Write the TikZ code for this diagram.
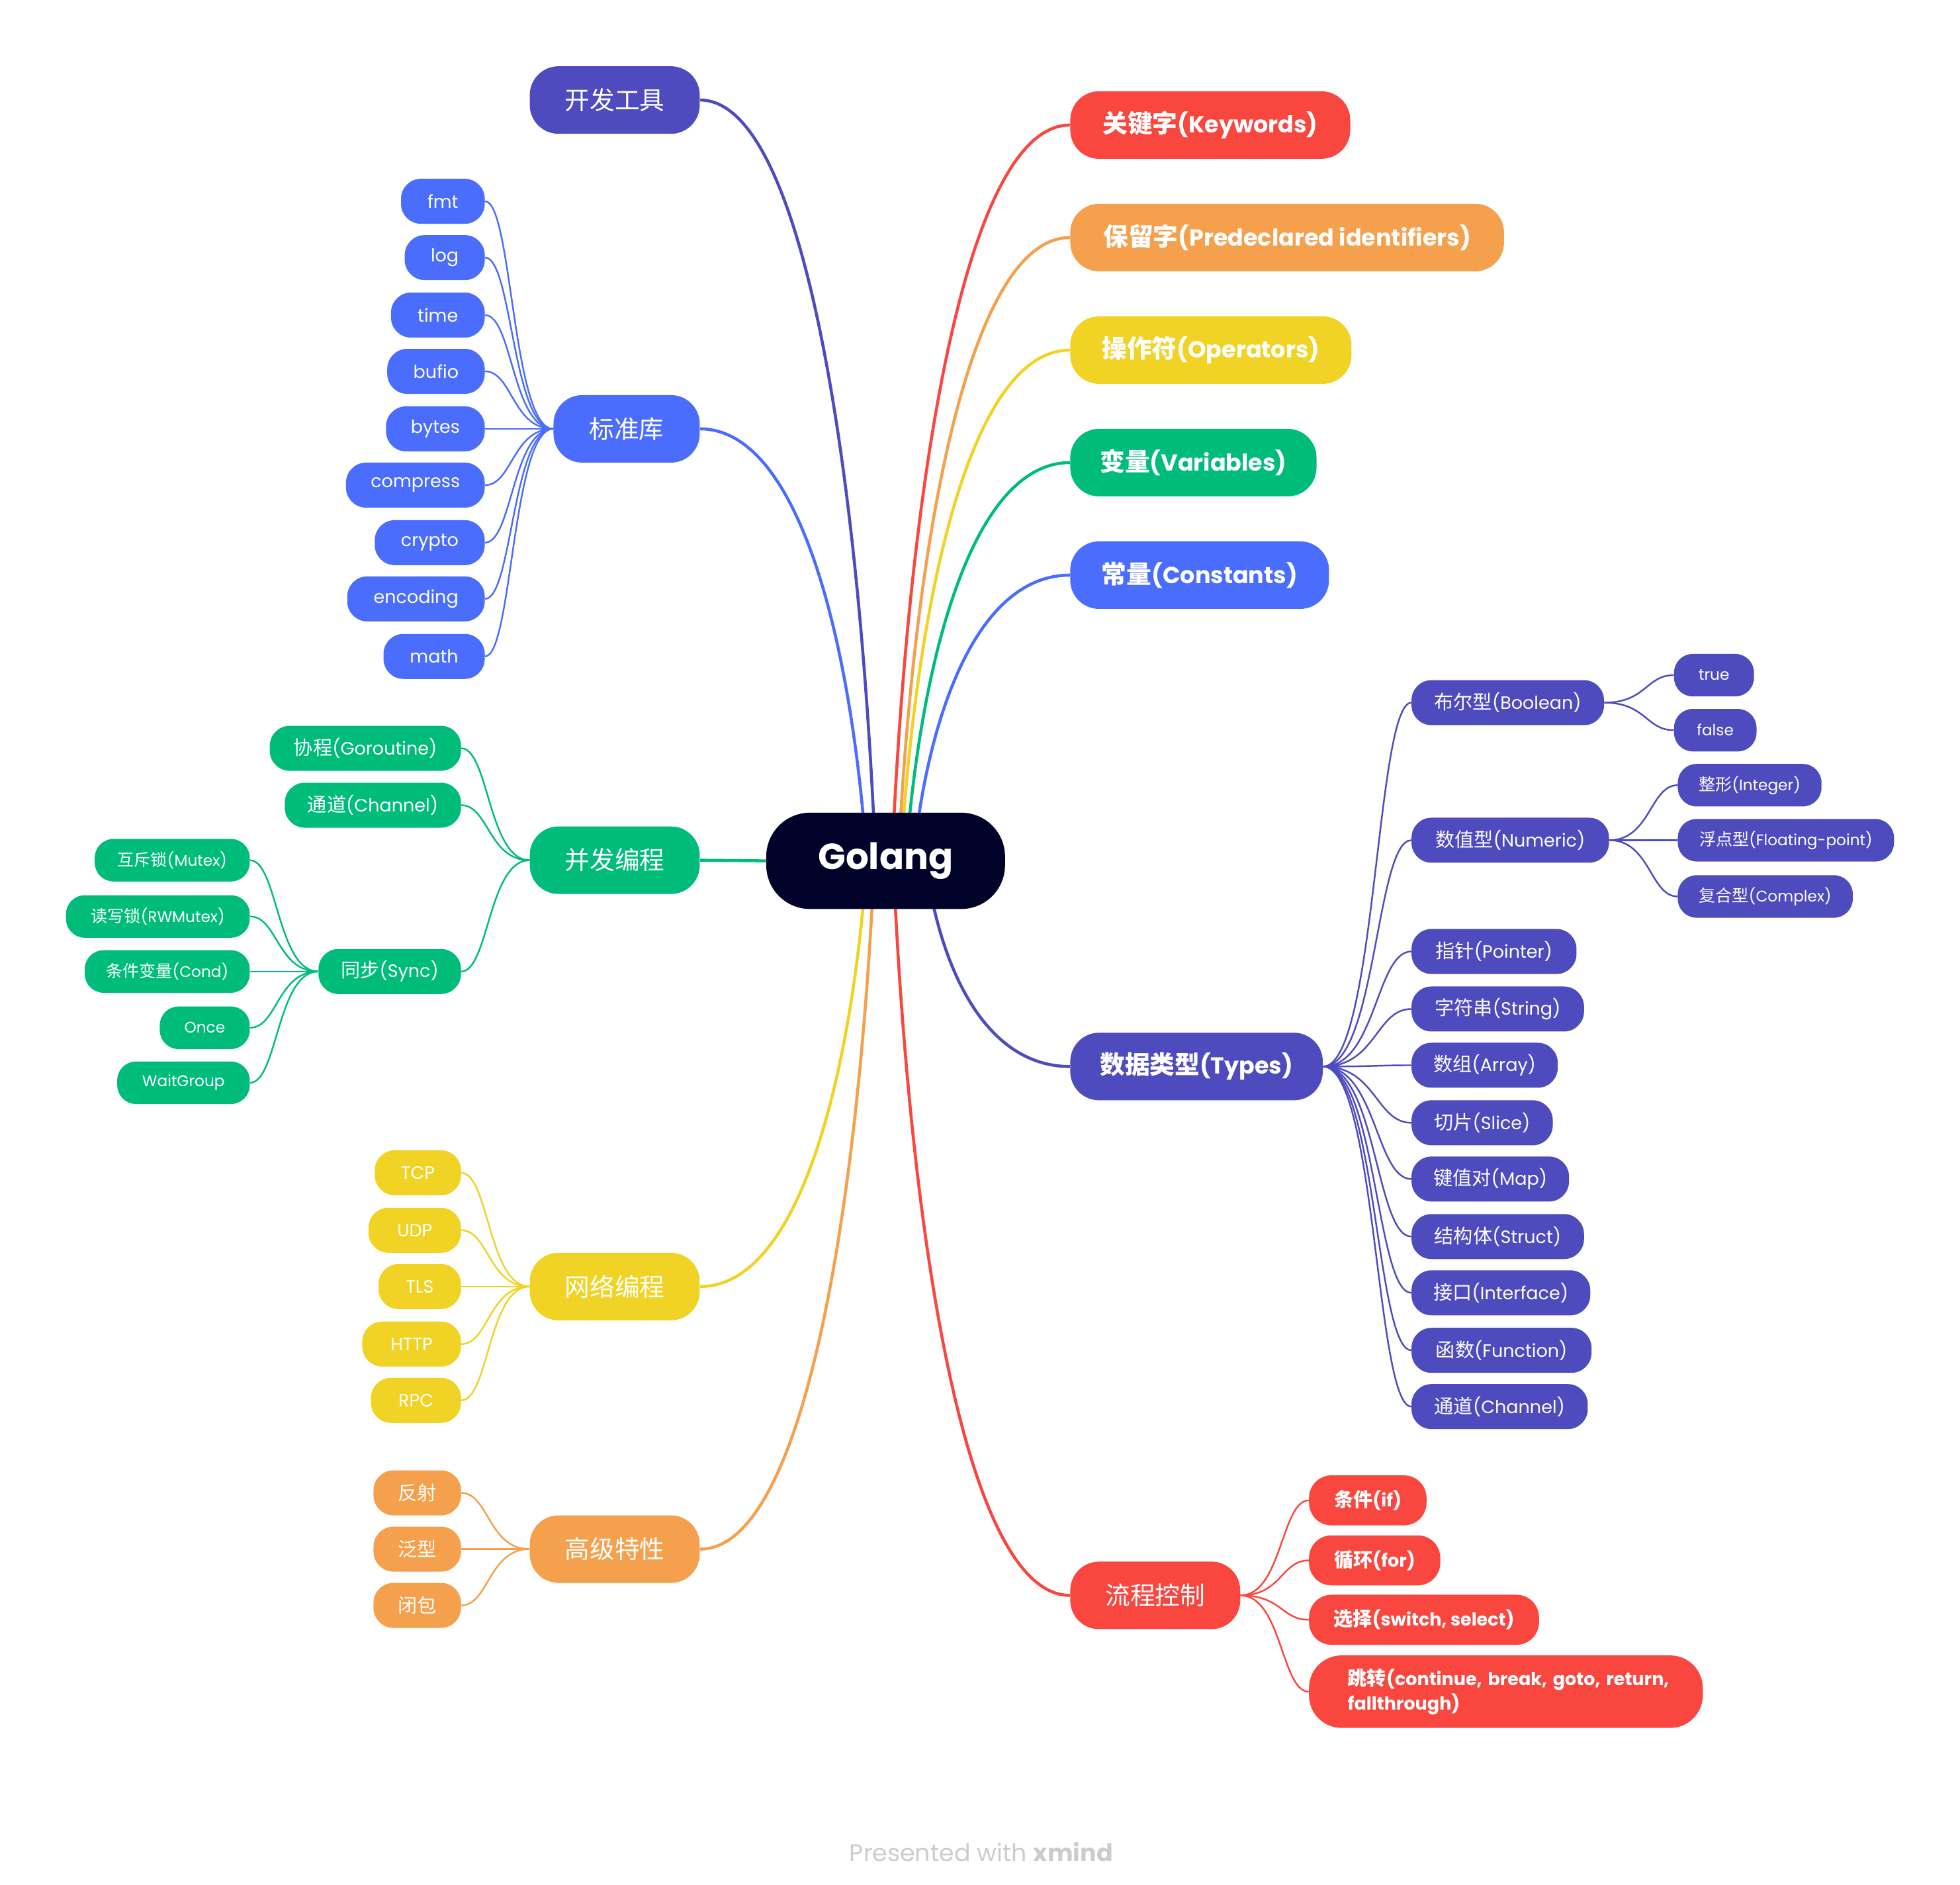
\documentclass[tikz,border=0pt]{standalone}
\usepackage{fontspec}
\setmainfont{Poppins}
\newfontfamily\zhfont{Noto Sans CJK SC}[Scale=1.08]
\newcommand{\zh}[1]{{\zhfont #1}}
\usetikzlibrary{calc}

\definecolor{cRed}{RGB}{249,70,63}
\definecolor{cOrange}{RGB}{245,160,77}
\definecolor{cYellow}{RGB}{240,211,36}
\definecolor{cGreen}{RGB}{0,188,123}
\definecolor{cBlue}{RGB}{75,109,254}
\definecolor{cIndigo}{RGB}{78,75,191}
\definecolor{cRoot}{RGB}{0,2,41}
\definecolor{cFoot}{RGB}{204,204,204}

\pgfdeclarelayer{links}
\pgfsetlayers{links,main}

% curved branch leaving the central topic
\newcommand\rootlink[3]{%
  \draw[trunk=#1] let \p1=($(go.center)+(#2,0)$), \p2=(#3) in
    (\p1) .. controls ({\x1+0.09*(\x2-\x1)},{\y1+0.5*(\y2-\y1)})
             and ({\x2+0.6*(\x1-\x2)},{\y2}) .. (\p2);}
% curved branch from a topic to one of its subtopics
\newcommand\fanlink[3]{%
  \draw[twig=#1] let \p1=(#2), \p2=(#3) in
    (\p1) .. controls ({\x1+0.6*(\x2-\x1)},{\y1})
             and ({\x2-0.4*(\x2-\x1)},{\y2}) .. (\p2);}

\begin{document}
\begin{tikzpicture}[x=1pt,y=-1pt,
  main/.style={fill=#1, text=white, inner sep=0pt, minimum height=54pt,
    rounded corners=23pt, font=\fontsize{18.5}{22}\selectfont},
  mainb/.style={main=#1, font=\fontsize{18.5}{22}\selectfont\bfseries},
  sub/.style={fill=#1, text=white, inner sep=0pt, minimum height=36pt,
    rounded corners=16pt, font=\fontsize{14.3}{17}\selectfont},
  subb/.style={fill=#1, text=white, inner sep=0pt, minimum height=40pt,
    rounded corners=18pt, font=\fontsize{14.3}{19.5}\selectfont\bfseries},
  leaf/.style={fill=#1, text=white, inner sep=0pt, minimum height=34pt,
    rounded corners=15pt, font=\fontsize{12.3}{15}\selectfont},
  trunk/.style={draw=#1, line width=2.4pt},
  twig/.style={draw=#1, line width=1.3pt},
]
\useasboundingbox (0,0) rectangle (1568,1507.6);

% central topic
\node[fill=cRoot, text=white, inner sep=0pt, minimum width=191pt,
  minimum height=77pt, rounded corners=35pt,
  font=\fontsize{29}{35}\selectfont\bfseries] (go) at (708.5,688.5) {Golang};

% main topics, right side
\node[mainb=cRed,    minimum width=224pt, anchor=west] (kw) at (856,100) {\zh{关键字}(Keywords)};
\node[mainb=cOrange, minimum width=347pt, anchor=west] (pd) at (856,190) {\zh{保留字}(Predeclared identifiers)};
\node[mainb=cYellow, minimum width=225pt, anchor=west] (op) at (856,280) {\zh{操作符}(Operators)};
\node[mainb=cGreen,  minimum width=197pt, anchor=west] (va) at (856,370) {\zh{变量}(Variables)};
\node[mainb=cBlue,   minimum width=207pt, anchor=west] (co) at (856,460) {\zh{常量}(Constants)};
\node[mainb=cIndigo, minimum width=202pt, anchor=west] (ty) at (856,853) {\zh{数据类型}(Types)};
\node[main=cRed,     minimum width=136pt, anchor=west] (fc) at (856,1276) {\zh{流程控制}};

% main topics, left side
\node[main=cIndigo, minimum width=136pt, anchor=east] (dev)  at (560,80)   {\zh{开发工具}};
\node[main=cBlue,   minimum width=117pt, anchor=east] (std)  at (560,343)  {\zh{标准库}};
\node[main=cGreen,  minimum width=136pt, anchor=east] (conc) at (560,688)  {\zh{并发编程}};
\node[main=cYellow, minimum width=136pt, anchor=east] (net)  at (560,1029) {\zh{网络编程}};
\node[main=cOrange, minimum width=136pt, anchor=east] (adv)  at (560,1239) {\zh{高级特性}};

% standard library packages
\node[sub=cBlue, minimum width=67pt,  anchor=east] (fmt)  at (388,161) {fmt};
\node[sub=cBlue, minimum width=64pt,  anchor=east] (log)  at (388,206) {log};
\node[sub=cBlue, minimum width=75pt,  anchor=east] (time) at (388,252) {time};
\node[sub=cBlue, minimum width=78pt,  anchor=east] (bufio) at (388,297) {bufio};
\node[sub=cBlue, minimum width=79pt,  anchor=east] (bytes) at (388,343) {bytes};
\node[sub=cBlue, minimum width=111pt, anchor=east] (compress) at (388,388) {compress};
\node[sub=cBlue, minimum width=88pt,  anchor=east] (crypto) at (388,434) {crypto};
\node[sub=cBlue, minimum width=110pt, anchor=east] (encoding) at (388,479) {encoding};
\node[sub=cBlue, minimum width=81pt,  anchor=east] (math) at (388,525) {math};

% concurrency
\node[sub=cGreen, minimum width=153pt, anchor=east] (gor)  at (369,598.5) {\zh{协程}(Goroutine)};
\node[sub=cGreen, minimum width=141pt, anchor=east] (chan) at (369,644)   {\zh{通道}(Channel)};
\node[sub=cGreen, minimum width=114pt, anchor=east] (sync) at (369,777)   {\zh{同步}(Sync)};
\node[leaf=cGreen, minimum width=124pt, anchor=east] (mutex)   at (200,688) {\zh{互斥锁}(Mutex)};
\node[leaf=cGreen, minimum width=147pt, anchor=east] (rwmutex) at (200,733) {\zh{读写锁}(RWMutex)};
\node[leaf=cGreen, minimum width=132pt, anchor=east] (cond)    at (200,777) {\zh{条件变量}(Cond)};
\node[leaf=cGreen, minimum width=72pt,  anchor=east] (once)    at (200,822) {Once};
\node[leaf=cGreen, minimum width=106pt, anchor=east] (wg)      at (200,866) {WaitGroup};

% networking
\node[sub=cYellow, minimum width=69pt, anchor=east] (tcp)  at (369,938)  {TCP};
\node[sub=cYellow, minimum width=74pt, anchor=east] (udp)  at (369,984)  {UDP};
\node[sub=cYellow, minimum width=66pt, anchor=east] (tls)  at (369,1029) {TLS};
\node[sub=cYellow, minimum width=79pt, anchor=east] (http) at (369,1075) {HTTP};
\node[sub=cYellow, minimum width=72pt, anchor=east] (rpc)  at (369,1120) {RPC};

% advanced features
\node[sub=cOrange, minimum width=70pt, anchor=east] (refl) at (369,1194) {\zh{反射}};
\node[sub=cOrange, minimum width=70pt, anchor=east] (gen)  at (369,1239) {\zh{泛型}};
\node[sub=cOrange, minimum width=70pt, anchor=east] (clo)  at (369,1284) {\zh{闭包}};

% data types
\node[sub=cIndigo, minimum width=154pt, anchor=west] (bool)  at (1129,562)  {\zh{布尔型}(Boolean)};
\node[sub=cIndigo, minimum width=158pt, anchor=west] (num)   at (1129,672)  {\zh{数值型}(Numeric)};
\node[sub=cIndigo, minimum width=132pt, anchor=west] (ptr)   at (1129,761)  {\zh{指针}(Pointer)};
\node[sub=cIndigo, minimum width=138pt, anchor=west] (str)   at (1129,807)  {\zh{字符串}(String)};
\node[sub=cIndigo, minimum width=117pt, anchor=west] (arr)   at (1129,852)  {\zh{数组}(Array)};
\node[sub=cIndigo, minimum width=113pt, anchor=west] (slice) at (1129,898)  {\zh{切片}(Slice)};
\node[sub=cIndigo, minimum width=126pt, anchor=west] (map)   at (1129,943)  {\zh{键值对}(Map)};
\node[sub=cIndigo, minimum width=138pt, anchor=west] (struct) at (1129,989) {\zh{结构体}(Struct)};
\node[sub=cIndigo, minimum width=143pt, anchor=west] (iface) at (1129,1034) {\zh{接口}(Interface)};
\node[sub=cIndigo, minimum width=144pt, anchor=west] (func)  at (1129,1080) {\zh{函数}(Function)};
\node[sub=cIndigo, minimum width=141pt, anchor=west] (tchan) at (1129,1125) {\zh{通道}(Channel)};
\node[leaf=cIndigo, minimum width=64pt,  anchor=west] (true)  at (1339,540) {true};
\node[leaf=cIndigo, minimum width=66pt,  anchor=west] (false) at (1339,584) {false};
\node[leaf=cIndigo, minimum width=115pt, anchor=west] (int)   at (1342,628) {\zh{整形}(Integer)};
\node[leaf=cIndigo, minimum width=173pt, anchor=west] (float) at (1342,672) {\zh{浮点型}(Floating-point)};
\node[leaf=cIndigo, minimum width=140pt, anchor=west] (cplx)  at (1342,717) {\zh{复合型}(Complex)};

% control flow
\node[subb=cRed, minimum width=94pt,  anchor=west] (if)  at (1047,1200) {\zh{条件}(if)};
\node[subb=cRed, minimum width=105pt, anchor=west] (for) at (1047,1248) {\zh{循环}(for)};
\node[subb=cRed, minimum width=184pt, anchor=west] (sel) at (1047,1295.5) {\zh{选择}(switch, select)};
\node[subb=cRed, minimum width=315pt, minimum height=58pt, rounded corners=26pt,
  text width=253pt, align=left, anchor=west] (jump) at (1047,1353)
  {\mbox{\zh{跳转}(continue, break, goto, return,}\\fallthrough)};

% footer
\node[text=cFoot, font=\fontsize{19.3}{23}\selectfont] (foot) at (785,1481)
  {Presented with \textbf{xmind}};

\begin{pgfonlayer}{links}
  \rootlink{cIndigo}{-8}{dev.east}
  \rootlink{cBlue}{-15}{std.east}
  \draw[trunk=cGreen] (conc.east) -- (go.west);
  \rootlink{cYellow}{-15}{net.east}
  \rootlink{cOrange}{-9}{adv.east}
  \rootlink{cRed}{5}{kw.west}
  \rootlink{cOrange}{10}{pd.west}
  \rootlink{cYellow}{12}{op.west}
  \rootlink{cGreen}{16}{va.west}
  \rootlink{cBlue}{22}{co.west}
  \rootlink{cIndigo}{32}{ty.west}
  \rootlink{cRed}{6}{fc.west}

  \foreach \k in {fmt,log,time,bufio,bytes,compress,crypto,encoding,math}
    {\fanlink{cBlue}{std.west}{\k.east}}
  \foreach \k in {gor,chan,sync}
    {\fanlink{cGreen}{conc.west}{\k.east}}
  \foreach \k in {mutex,rwmutex,cond,once,wg}
    {\fanlink{cGreen}{sync.west}{\k.east}}
  \foreach \k in {tcp,udp,tls,http,rpc}
    {\fanlink{cYellow}{net.west}{\k.east}}
  \foreach \k in {refl,gen,clo}
    {\fanlink{cOrange}{adv.west}{\k.east}}
  \foreach \k in {bool,num,ptr,str,arr,slice,map,struct,iface,func,tchan}
    {\fanlink{cIndigo}{ty.east}{\k.west}}
  \foreach \k in {true,false}
    {\fanlink{cIndigo}{bool.east}{\k.west}}
  \foreach \k in {int,float,cplx}
    {\fanlink{cIndigo}{num.east}{\k.west}}
  \foreach \k in {if,for,sel,jump}
    {\fanlink{cRed}{fc.east}{\k.west}}
\end{pgfonlayer}
\end{tikzpicture}
\end{document}
